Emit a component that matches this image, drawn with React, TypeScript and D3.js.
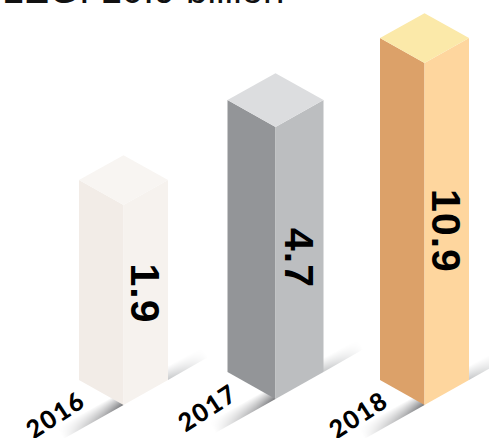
import React from "react";
import * as d3 from "d3";

const years = ["2016", "2017", "2018"];
const values = [1.9, 4.7, 10.9];
const valueLabels = ["1.9", "4.7", "10.9"];
const titleText = "LEG: 10.9 billion";
const leftColors = ["#f2ece7", "#939598", "#dca169"];
const rightColors = ["#f6f2ee", "#bcbec0", "#fed69e"];
const topColors = ["#f8f5f2", "#dcdddf", "#fbe9a9"];

const W = 489;
const H = 438;

// The bars are a hand-drawn infographic: height does not follow a zero-based linear axis.
const heightScale = d3.scaleLinear().domain(values).range([200, 272, 342]);
const labelLift = d3.scaleLinear().domain(values).range([111.5, 141, 174]);
const centerX = d3.scaleOrdinal<string, number>().domain(years).range([123.5, 275.5, 424.5]);
const halfWidth = d3.scaleOrdinal<string, number>().domain(years).range([44.5, 48, 44.5]);
const baseY = d3.scaleOrdinal<string, number>().domain(years).range([405, 399, 405]);
const labelPos = d3.scaleOrdinal<string, [number, number]>().domain(years).range([[55, 414], [207, 407], [358, 414]]);

const line = d3.line<[number, number]>();
const poly = (pts: [number, number][]) => line(pts) + "Z";

export default function App() {
  return (
    <svg width={W} height={H} viewBox={`0 0 ${W} ${H}`} style={{ position: "absolute", left: 0, top: 0, display: "block", background: "#fff" }}>
      <defs>
        {years.map((y) => {
          const c = centerX(y);
          const hw = halfWidth(y);
          const b = baseY(y);
          const dy = hw * 0.56;
          const sx = c + hw;
          const sy = b - dy;
          return (
            <React.Fragment key={y}>
              <linearGradient id={`front-${y}`} gradientUnits="userSpaceOnUse" x1={c} y1={b} x2={c - 6} y2={b - 11}>
                <stop offset="0" stopColor="#77787b" />
                <stop offset="1" stopColor="#ffffff" />
              </linearGradient>
              <linearGradient id={`frontFade-${y}`} gradientUnits="userSpaceOnUse" x1={c} y1={b} x2={c - 60} y2={b + 34}>
                <stop offset="0" stopColor="#fff" />
                <stop offset="0.3" stopColor="#999" />
                <stop offset="1" stopColor="#000" />
              </linearGradient>
              <mask id={`frontMask-${y}`} maskUnits="userSpaceOnUse" x="0" y="0" width={W} height={H}>
                <rect x="0" y="0" width={W} height={H} fill={`url(#frontFade-${y})`} />
              </mask>
              <linearGradient id={`back-${y}`} gradientUnits="userSpaceOnUse" x1={sx} y1={sy} x2={sx - 6} y2={sy - 11}>
                <stop offset="0" stopColor="#bcbec0" />
                <stop offset="1" stopColor="#ffffff" />
              </linearGradient>
              <linearGradient id={`backFade-${y}`} gradientUnits="userSpaceOnUse" x1={sx} y1={sy} x2={sx + 40} y2={sy - 23}>
                <stop offset="0" stopColor="#ddd" />
                <stop offset="1" stopColor="#000" />
              </linearGradient>
              <mask id={`backMask-${y}`} maskUnits="userSpaceOnUse" x="0" y="0" width={W} height={H}>
                <rect x="0" y="0" width={W} height={H} fill={`url(#backFade-${y})`} />
              </mask>
            </React.Fragment>
          );
        })}
      </defs>
      <text x={2} y={3} fontFamily="'Liberation Sans', Arial, sans-serif" fontSize={38.5} fontWeight={400} fill="#111">{titleText}</text>
      {years.map((y, i) => {
        const c = centerX(y);
        const hw = halfWidth(y);
        const b = baseY(y);
        const dy = hw * 0.56;
        const h = heightScale(values[i]);
        const shoulderB = b - dy;
        const shoulderT = shoulderB - h;
        const frontT = b - h;
        const topT = shoulderT - dy;
        const [lx, ly] = labelPos(y);
        const sx = c + hw;
        return (
          <g key={y}>
            <path
              d={poly([[sx, shoulderB], [sx + 42, shoulderB - 24], [sx + 36, shoulderB - 35], [sx - 6, shoulderB - 11]])}
              fill={`url(#back-${y})`}
              mask={`url(#backMask-${y})`}
            />
            <path
              d={poly([[c, b], [c - 62, b + 35], [c - 68, b + 24], [c - 6, b - 11]])}
              fill={`url(#front-${y})`}
              mask={`url(#frontMask-${y})`}
            />
            <path d={poly([[c - hw, shoulderT], [c, frontT], [c, b], [c - hw, shoulderB]])} fill={leftColors[i]} />
            <path d={poly([[c, frontT], [c + hw, shoulderT], [c + hw, shoulderB], [c, b]])} fill={rightColors[i]} />
            <path d={poly([[c - hw, shoulderT], [c, topT], [c + hw, shoulderT], [c, frontT]])} fill={topColors[i]} />
            <text
              transform={`translate(${c + hw / 2 - 0.5},${b - labelLift(values[i])}) rotate(90)`}
              textAnchor="middle"
              dominantBaseline="central"
              fontFamily="'Liberation Sans', Arial, sans-serif"
              fontWeight={700}
              fontSize={41}
              letterSpacing={1}
              fill="#000"
            >
              {valueLabels[i]}
            </text>
            <text
              transform={`translate(${lx},${ly}) rotate(-33)`}
              textAnchor="middle"
              dominantBaseline="central"
              fontFamily="Lato, 'Open Sans', sans-serif"
              fontWeight={900}
              fontSize={25}
              letterSpacing={1.5}
              fill="#000"
            >
              {y}
            </text>
          </g>
        );
      })}
    </svg>
  );
}
